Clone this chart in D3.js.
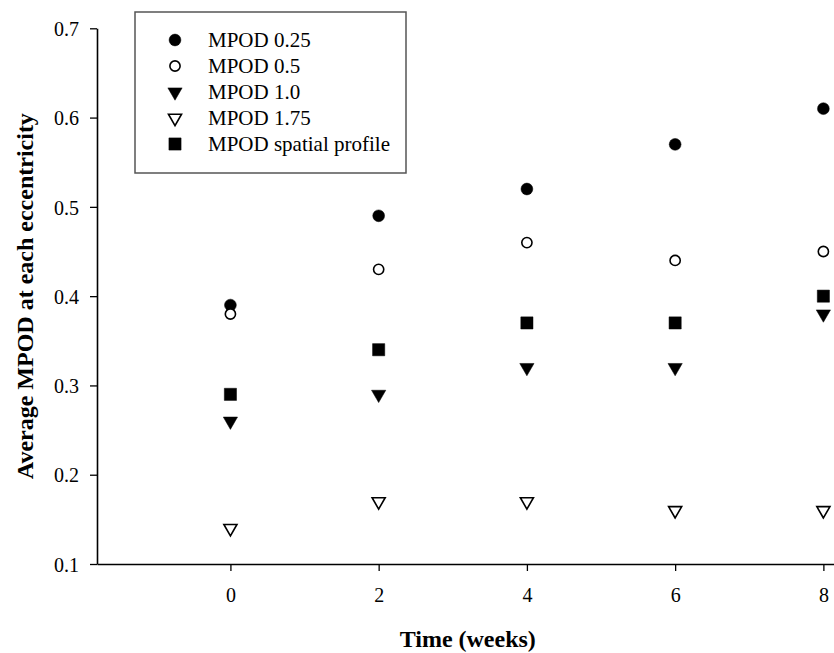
<!DOCTYPE html>
<html>
<head>
<meta charset="utf-8">
<script src="https://cdn.jsdelivr.net/npm/d3@7"></script>
<style>
  body { margin: 0; background: #fff; }
  svg { display: block; font-family: "Times New Roman", "Liberation Serif", serif; }
</style>
</head>
<body>
<script>
const weeks = [0, 2, 4, 6, 8];
const mpod025 = [0.39, 0.49, 0.52, 0.57, 0.61];
const mpod05 = [0.38, 0.43, 0.46, 0.44, 0.45];
const mpod10 = [0.26, 0.29, 0.32, 0.32, 0.38];
const mpod175 = [0.14, 0.17, 0.17, 0.16, 0.16];
const mpodProfile = [0.29, 0.34, 0.37, 0.37, 0.40];
const yTicks = [0.1, 0.2, 0.3, 0.4, 0.5, 0.6, 0.7];

const width = 834;
const height = 653;

// marker styles per series
const series = [
    { name: "MPOD 0.25", values: mpod025, type: d3.symbolCircle, size: 110, fill: "#000", rot: 0 },
    { name: "MPOD 0.5", values: mpod05, type: d3.symbolCircle, size: 82, fill: "#fff", rot: 0 },
    { name: "MPOD 1.0", values: mpod10, type: d3.symbolTriangle, size: 88, fill: "#000", rot: 180 },
    { name: "MPOD 1.75", values: mpod175, type: d3.symbolTriangle, size: 74, fill: "#fff", rot: 180 },
    { name: "MPOD spatial profile", values: mpodProfile, type: d3.symbolSquare, size: 148, fill: "#000", rot: 0 }
];

const svg = d3.select("body")
    .append("svg")
    .attr("width", width)
    .attr("height", height);

const scaleX = d3.scaleLinear()
    .domain([-1.8, 8.15])
    .range([97, 834.5]);
const scaleY = d3.scaleLinear()
    .domain([0.1, 0.7])
    .range([564, 28.3]);

const xAxis = svg.append("g")
    .attr("transform", `translate(0,${scaleY(0.1)})`)
    .call(d3.axisBottom(scaleX).tickValues(weeks).tickSize(7).tickSizeOuter(0).tickFormat(d3.format("d")));
xAxis.select(".domain").attr("stroke-width", 1.6);
xAxis.selectAll(".tick line").attr("stroke-width", 1.3);
xAxis.selectAll("text")
    .attr("y", 38)
    .attr("dy", 0)
    .attr("fill", "#000")
    .style("font-size", "20px")
    .style("font-family", "'Times New Roman', 'Liberation Serif', serif");

const yAxis = svg.append("g")
    .attr("transform", `translate(${scaleX(-1.8)},0)`)
    .call(d3.axisLeft(scaleY).tickValues(yTicks).tickSize(7).tickSizeOuter(0).tickPadding(11).tickFormat(d3.format(".1f")));
yAxis.select(".domain").attr("stroke-width", 1.6);
yAxis.selectAll(".tick line").attr("stroke-width", 1.3);
yAxis.selectAll("text")
    .attr("dy", "0.36em")
    .attr("fill", "#000")
    .style("font-size", "20px")
    .style("font-family", "'Times New Roman', 'Liberation Serif', serif");

// axis titles
svg.append("text")
    .attr("x", (scaleX.range()[0] + scaleX.range()[1]) / 2 + 2)
    .attr("y", 647)
    .attr("text-anchor", "middle")
    .style("font-size", "24px")
    .style("font-weight", "bold")
    .text("Time (weeks)");

svg.append("text")
    .attr("transform", "rotate(-90)")
    .attr("x", -(scaleY(0.1) + scaleY(0.7)) / 2)
    .attr("y", 33)
    .attr("text-anchor", "middle")
    .style("font-size", "24px")
    .style("font-weight", "bold")
    .text("Average MPOD at each eccentricity");

// points
const plot = svg.append("g");
series.forEach(s => {
    plot.selectAll(null)
        .data(s.values.map((v, i) => ({ week: weeks[i], value: v })))
        .enter()
        .append("path")
        .attr("d", d3.symbol().type(s.type).size(s.size))
        .attr("transform", d => `translate(${scaleX(d.week)},${scaleY(d.value)}) rotate(${s.rot})`)
        .attr("fill", s.fill)
        .attr("stroke", "#000")
        .attr("stroke-width", s.fill === "#fff" ? 1.6 : 0.5);
});

// legend
const legend = svg.append("g");
legend.append("rect")
    .attr("x", 135)
    .attr("y", 12)
    .attr("width", 271)
    .attr("height", 161)
    .attr("fill", "none")
    .attr("stroke", "#555")
    .attr("stroke-width", 1.5);

const rowY = i => 40 + i * 26;
series.forEach((s, i) => {
    legend.append("path")
        .attr("d", d3.symbol().type(s.type).size(s.size))
        .attr("transform", `translate(175,${rowY(i)}) rotate(${s.rot})`)
        .attr("fill", s.fill)
        .attr("stroke", "#000")
        .attr("stroke-width", s.fill === "#fff" ? 1.6 : 0.5);
    legend.append("text")
        .attr("x", 208)
        .attr("y", rowY(i))
        .attr("dy", "0.32em")
        .style("font-size", "21px")
        .text(s.name);
});
</script>
</body>
</html>
